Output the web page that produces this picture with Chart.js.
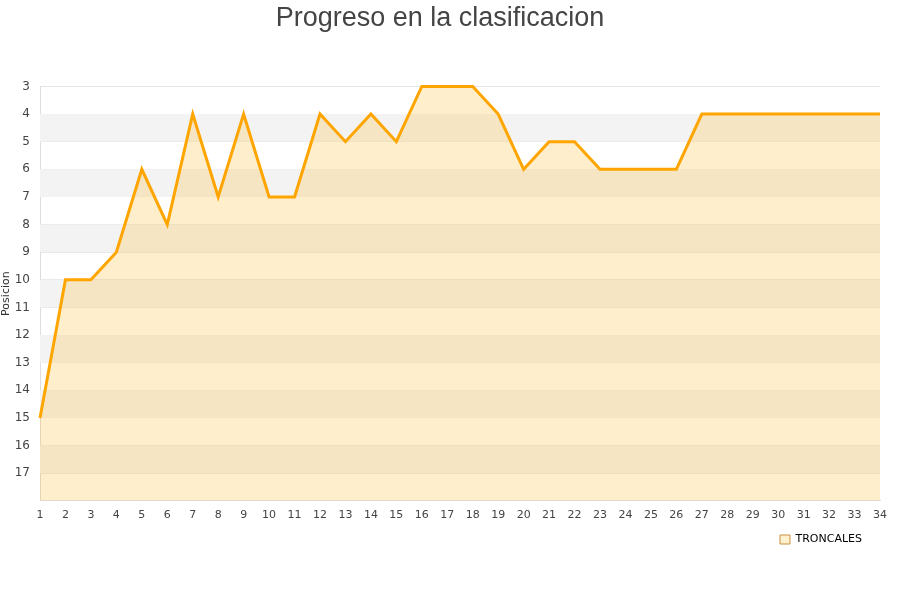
<!DOCTYPE html>
<html>
<head>
<meta charset="utf-8">
<script src="https://cdn.jsdelivr.net/npm/chart.js@4/dist/chart.umd.min.js"></script>
<style>
  html, body { margin: 0; padding: 0; background: #fff; }
  #wrap { width: 900px; height: 600px; }
</style>
</head>
<body>
<div id="wrap"><canvas id="chart"></canvas></div>
<script>
// jornadas y posicion del equipo
const jornadas = ['1','2','3','4','5','6','7','8','9','10','11','12','13','14','15','16','17',
  '18','19','20','21','22','23','24','25','26','27','28','29','30','31','32','33','34'];
const posiciones = [15, 10, 10, 9, 6, 8, 4, 7, 4, 7, 7, 4, 5, 4, 5, 3, 3, 3, 4, 6, 5, 5, 6, 6, 6, 6,
  4, 4, 4, 4, 4, 4, 4, 4];
const yMin = 3;
const yMax = 18;

// franjas grises alternas detras del area
const bandPlugin = {
  id: 'bands',
  afterLayout(chart) {
    // la leyenda queda un poco mas a la izquierda que el borde del grafico
    if (chart.legend) chart.legend.right -= 14;
  },
  beforeDatasetsDraw(chart) {
    const { ctx, chartArea } = chart;
    const y = chart.scales.y;
    ctx.save();
    ctx.fillStyle = '#f3f3f3';
    for (let v = yMin + 1; v < yMax; v += 2) {
      const top = y.getPixelForValue(v);
      const bottom = y.getPixelForValue(v + 1);
      ctx.fillRect(chartArea.left, top, chartArea.right - chartArea.left, bottom - top);
    }
    ctx.restore();
  }
};

const chart = new Chart(document.getElementById('chart').getContext('2d'), {
  type: 'line',
  data: {
    labels: jornadas,
    datasets: [{
      label: 'TRONCALES',
      data: posiciones,
      borderColor: '#ffa500',
      backgroundColor: 'rgba(255,187,51,0.25)',
      borderWidth: 3,
      pointRadius: 0,
      tension: 0,
      fill: { value: yMax },
      clip: false
    }]
  },
  options: {
    responsive: true,
    maintainAspectRatio: false,
    animation: false,
    layout: { padding: { left: 0, right: 20, top: 2, bottom: 45 } },
    plugins: {
      title: {
        display: true,
        text: 'Progreso en la clasificacion',
        color: '#444',
        font: { family: 'Liberation Sans, Arial, sans-serif', size: 27, weight: 'normal' },
        padding: { top: 0, bottom: 52 }
      },
      legend: {
        display: true,
        position: 'bottom',
        align: 'end',
        labels: {
          color: '#222',
          boxWidth: 10,
          boxHeight: 9,
          padding: 4,
          font: { family: 'DejaVu Sans', size: 11 },
          generateLabels() {
            return [{
              text: 'TRONCALES',
              fillStyle: '#fff0d0',
              strokeStyle: '#c89040',
              lineWidth: 1,
              datasetIndex: 0
            }];
          }
        }
      },
      tooltip: { enabled: false }
    },
    scales: {
      x: {
        offset: false,
        grid: { display: false, drawTicks: false },
        border: { display: true, color: '#dddddd' },
        ticks: {
          color: '#444',
          font: { family: 'DejaVu Sans', size: 11 },
          maxRotation: 0,
          autoSkip: false,
          padding: 8
        }
      },
      y: {
        reverse: true,
        min: yMin,
        max: yMax,
        grid: { color: 'rgba(0,0,0,0.1)', drawTicks: false },
        border: { display: true, color: '#dddddd' },
        title: {
          display: true,
          text: 'Posicion',
          color: '#333',
          font: { family: 'DejaVu Sans', size: 11 },
          padding: { top: 0, bottom: 2 }
        },
        ticks: {
          stepSize: 1,
          color: '#444',
          font: { family: 'DejaVu Sans', size: 12 },
          padding: 10,
          callback: v => (v === yMax ? '' : v)
        },
        afterFit(scale) { scale.width = 40; }
      }
    }
  },
  plugins: [bandPlugin]
});
</script>
</body>
</html>
